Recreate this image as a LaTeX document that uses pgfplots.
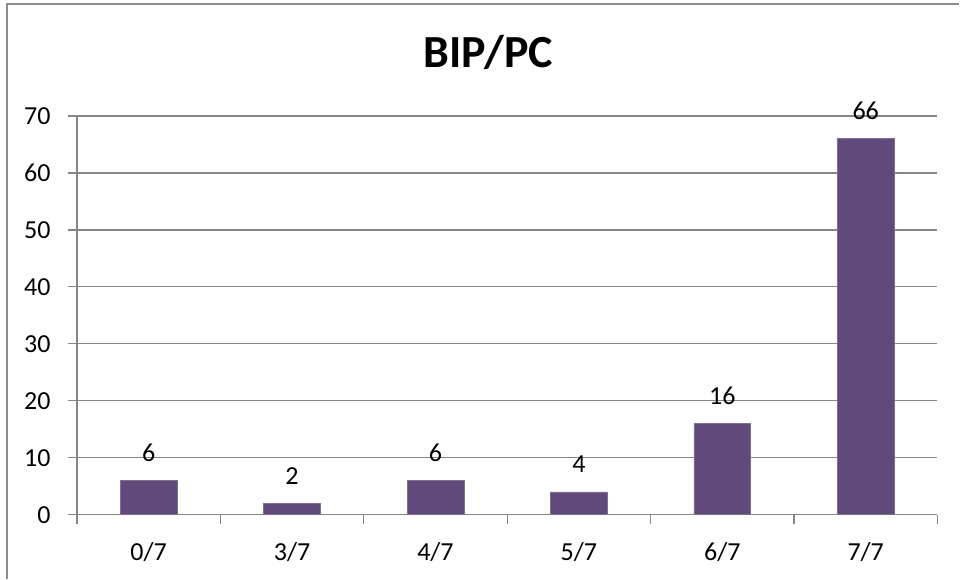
\documentclass[border=0pt]{standalone}
\usepackage{pgfplots}
\pgfplotsset{compat=1.18}
\usepackage{fontspec}
\setmainfont{Carlito}
\definecolor{barpurple}{HTML}{5F4A7B}
\definecolor{gridgray}{HTML}{868686}
\definecolor{framegray}{HTML}{8C8C8C}

\begin{document}
\begin{tikzpicture}
  \begin{axis}[
    scale only axis, width=861bp, height=399bp,
    xmin=-0.5, xmax=5.5, ymin=0, ymax=70,
    axis x line*=bottom, axis y line*=left,
    axis line style={gridgray, line width=1.3bp},
    ytick={0,10,...,70},
    xtick={-0.5,0.5,...,5.5},
    xticklabels={0/7,3/7,4/7,5/7,6/7,7/7,},
    x tick label style={xshift=71.75bp, yshift=-15bp, overlay},
    y tick label style={xshift=-14bp},
    tick align=outside, major tick length=9bp,
    tick style={gridgray, line width=1.3bp},
    ymajorgrids,
    major grid style={gridgray, line width=1.3bp},
    ticklabel style={font=\fontsize{26bp}{30bp}\selectfont, text=black},
    /pgf/number format/assume math mode=true,
    clip=false,
    nodes near coords,
    every node near coord/.append style={font=\fontsize{26bp}{30bp}\selectfont, text=black, anchor=base, yshift=19bp, inner sep=0pt},
  ]
    \addplot[ybar, bar width=0.397, fill=barpurple, draw=barpurple!80!white, line width=0.6bp]
      coordinates {(0,6) (1,2) (2,6) (3,4) (4,16) (5,66)};

    % outer page area of the chart
    \path (rel axis cs:-0.08943,-0.16040) rectangle (rel axis cs:1.02555,1.29073);
    % chart frame (left and top edges)
    \draw[framegray, line width=1.2bp]
      (rel axis cs:-0.08130,-0.16040) -- (rel axis cs:-0.08130,1.28070) -- (rel axis cs:1.02555,1.28070);
    % title
    \node[anchor=base, font=\fontsize{46bp}{52bp}\selectfont\bfseries]
      at (rel axis cs:0.47793,1.12030) {BIP/PC};
  \end{axis}
\end{tikzpicture}
\end{document}
